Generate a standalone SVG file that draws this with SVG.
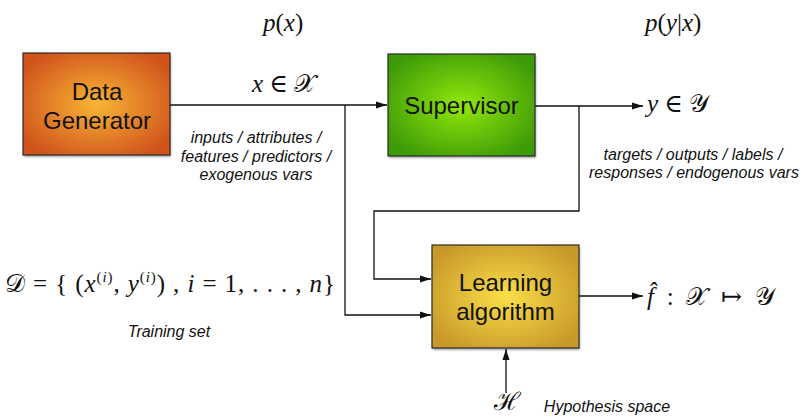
<svg xmlns="http://www.w3.org/2000/svg" width="805" height="417" viewBox="0 0 805 417">
<style>
.box{stroke:#2a2a2a;stroke-width:1.2}
.lbl{font-family:"Liberation Sans",Arial,sans-serif;font-size:24px;fill:#111;text-anchor:middle}
.it{font-family:"Liberation Sans",Arial,sans-serif;font-style:italic;font-size:16px;fill:#111;text-anchor:middle}
.m{font-family:"Liberation Serif","DejaVu Serif",serif;font-size:25px;fill:#111}
.mi{font-style:italic}
.conn{fill:none;stroke:#111;stroke-width:1.3}
.shadow{fill:#000;opacity:0.35}
</style>
<defs>
<radialGradient id="gOrange" cx="50%" cy="50%" r="60%">
<stop offset="0" stop-color="#f8b535"/>
<stop offset="1" stop-color="#d0531c"/>
</radialGradient>
<radialGradient id="gGreen" cx="50%" cy="50%" r="60%">
<stop offset="0" stop-color="#92e80b"/>
<stop offset="1" stop-color="#3d9a08"/>
</radialGradient>
<radialGradient id="gGold" cx="50%" cy="50%" r="60%">
<stop offset="0" stop-color="#fadf47"/>
<stop offset="1" stop-color="#c8992a"/>
</radialGradient>
<filter id="blur" x="-10%" y="-10%" width="120%" height="120%"><feGaussianBlur stdDeviation="1.2"/></filter>
<marker id="arr" markerWidth="12" markerHeight="8" refX="11" refY="4" orient="auto" markerUnits="userSpaceOnUse">
<path d="M0,0.5 L11,4 L0,7.5 Z" fill="#111"/>
</marker>
</defs>

<g id="connectors">
<path class="conn" d="M170,105 H387" marker-end="url(#arr)"/>
<path class="conn" d="M345,105 V315 H431" marker-end="url(#arr)"/>
<path class="conn" d="M535,106 H643" marker-end="url(#arr)"/>
<path class="conn" d="M579,106 V211 H374 V279 H431" marker-end="url(#arr)"/>
<path class="conn" d="M579,296 H643" marker-end="url(#arr)"/>
<path class="conn" d="M506,393 V349" marker-end="url(#arr)"/>
</g>

<g id="data-generator">
<rect class="shadow" x="24" y="55" width="147" height="102" filter="url(#blur)"/>
<rect class="box" x="23" y="53" width="147" height="102" fill="url(#gOrange)"/>
<text class="lbl" x="97" y="100">Data</text>
<text class="lbl" x="97" y="129">Generator</text>
</g>

<g id="supervisor">
<rect class="shadow" x="389" y="56" width="147" height="102" filter="url(#blur)"/>
<rect class="box" x="388" y="54" width="147" height="102" fill="url(#gGreen)"/>
<text class="lbl" x="461.5" y="114">Supervisor</text>
</g>

<g id="learning-algorithm">
<rect class="shadow" x="433" y="247" width="147" height="103" filter="url(#blur)"/>
<rect class="box" x="432" y="245" width="147" height="103" fill="url(#gGold)"/>
<text class="lbl" x="505.5" y="291">Learning</text>
<text class="lbl" x="505.5" y="320">algorithm</text>
</g>

<g id="labels">
<text class="m" x="263" y="31" font-size="30"><tspan class="mi">p</tspan>(<tspan class="mi">x</tspan>)</text>
<text class="m" x="645" y="31" font-size="30"><tspan class="mi">p</tspan>(<tspan class="mi">y</tspan>|<tspan class="mi">x</tspan>)</text>
<text class="m" x="252" y="92"><tspan class="mi">x</tspan> ∈ 𝒳</text>
<text class="m" x="647" y="112"><tspan class="mi">y</tspan> ∈ 𝒴</text>
<text class="it" x="256" y="143">inputs / attributes /</text>
<text class="it" x="256" y="162">features / predictors /</text>
<text class="it" x="256" y="180">exogenous vars</text>
<text class="it" x="693" y="160">targets / outputs / labels /</text>
<text class="it" x="694" y="178">responses / endogenous vars</text>
<text class="m" x="5" y="292" textLength="330">𝒟 = { (<tspan class="mi">x</tspan><tspan font-size="15" dy="-10">(<tspan class="mi">i</tspan>)</tspan><tspan dy="10">, </tspan><tspan class="mi">y</tspan><tspan font-size="15" dy="-10">(<tspan class="mi">i</tspan>)</tspan><tspan dy="10">) , </tspan><tspan class="mi">i</tspan> = 1, . . . , <tspan class="mi">n</tspan>}</text>
<text class="it" x="169" y="337">Training set</text>
<text class="m" x="647" y="305" textLength="128"><tspan class="mi">f̂</tspan> : 𝒳 ↦ 𝒴</text>
<text class="m" x="494" y="410">ℋ</text>
<text class="it" x="607" y="412">Hypothesis space</text>
</g>
</svg>
